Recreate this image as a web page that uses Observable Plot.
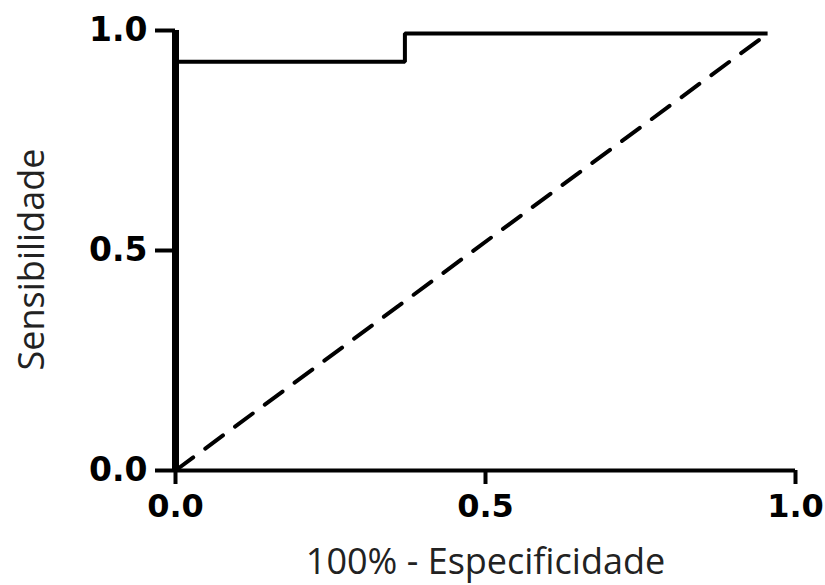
<!DOCTYPE html>
<html>
<head>
<meta charset="utf-8">
<script src="https://cdn.jsdelivr.net/npm/d3@7"></script>
<script src="https://cdn.jsdelivr.net/npm/@observablehq/plot@0.6"></script>
<style>
  html, body { margin: 0; padding: 0; background: #fff; }
</style>
</head>
<body>
<div id="chart"></div>
<script>
// ROC curve (step) points: 1 - specificity vs sensitivity
const rocX = [0, 0, 0.37, 0.37, 0.955];
const rocY = [0, 0.929, 0.929, 0.993, 0.993];
// Reference (chance) diagonal
const diagX = [0, 0.955];
const diagY = [0, 0.993];
// Tick values
const xTicks = [0, 0.5, 1.0];
const yTicks = [0, 0.5, 1.0];
const xLabel = "100% - Especificidade";
const yLabel = "Sensibilidade";

const roc = rocX.map((x, i) => ({x, y: rocY[i]}));
const diag = diagX.map((x, i) => ({x, y: diagY[i]}));

const tickFont = "'DejaVu Sans', sans-serif";
const labelFont = "'Open Sans', sans-serif";

const chart = Plot.plot({
  width: 825,
  height: 585,
  marginLeft: 175,
  marginRight: 30,
  marginTop: 30,
  marginBottom: 115,
  x: {domain: [0, 1]},
  y: {domain: [0, 1]},
  style: {background: "#fff", color: "#000"},
  marks: [
    Plot.axisX(xTicks, {
      tickSize: 14, tickPadding: 10, strokeWidth: 4,
      tickFormat: d3.format(".1f"),
      fontSize: 32, fontWeight: "bold", fontFamily: tickFont,
      label: null
    }),
    Plot.axisY(yTicks, {
      tickSize: 20, tickPadding: 8, strokeWidth: 4,
      tickFormat: d3.format(".1f"),
      fontSize: 33, fontWeight: "bold", fontFamily: tickFont,
      label: null
    }),
    // axis lines
    Plot.ruleY([0], {x1: 0, x2: 1, strokeWidth: 4}),
    Plot.ruleX([0], {y1: 0, y2: 1, strokeWidth: 7}),
    // chance diagonal
    Plot.line(diag, {x: "x", y: "y", strokeWidth: 4, strokeDasharray: "22,15"}),
    // ROC curve
    Plot.line(roc, {x: "x", y: "y", strokeWidth: 4, strokeLinejoin: "miter", strokeLinecap: "butt"}),
    // axis titles
    Plot.text([xLabel], {frameAnchor: "bottom", lineAnchor: "middle", textAnchor: "middle", dy: 92, fontSize: 36, fontFamily: labelFont, fill: "#222"}),
    Plot.text([yLabel], {frameAnchor: "left", lineAnchor: "middle", textAnchor: "middle", rotate: -90, dx: -143, dy: 9, fontSize: 36, fontFamily: labelFont, fill: "#222"})
  ]
});
document.getElementById("chart").appendChild(chart);
</script>
</body>
</html>
